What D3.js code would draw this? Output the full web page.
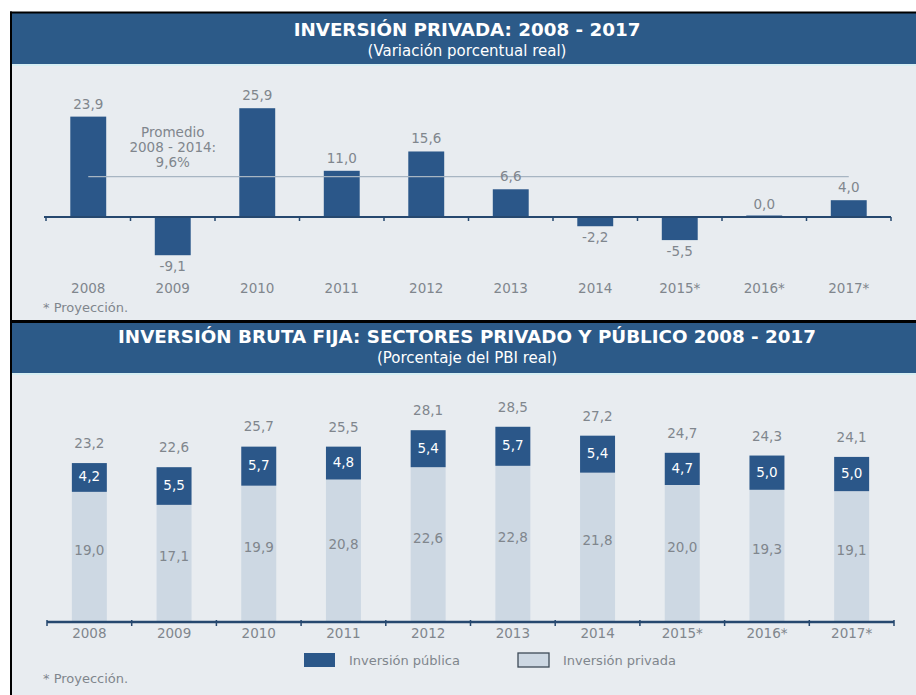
<!DOCTYPE html>
<html>
<head>
<meta charset="utf-8">
<script src="https://cdn.jsdelivr.net/npm/d3@7"></script>
<style>
  html, body { margin: 0; padding: 0; background: #ffffff; }
  svg { display: block; }
</style>
</head>
<body>
<svg id="chart" width="916" height="695"></svg>
<script>
// Años del período (los marcados con * son proyecciones)
const years = ["2008", "2009", "2010", "2011", "2012", "2013", "2014", "2015*", "2016*", "2017*"];

// Inversión privada: variación porcentual real
const privateGrowth = [23.9, -9.1, 25.9, 11.0, 15.6, 6.6, -2.2, -5.5, 0.0, 4.0];
const averageGrowth = 9.6;

// Inversión bruta fija (% del PBI real)
const publicShare  = [4.2, 5.5, 5.7, 4.8, 5.4, 5.7, 5.4, 4.7, 5.0, 5.0];
const privateShare = [19.0, 17.1, 19.9, 20.8, 22.6, 22.8, 21.8, 20.0, 19.3, 19.1];
const totalShare   = [23.2, 22.6, 25.7, 25.5, 28.1, 28.5, 27.2, 24.7, 24.3, 24.1];

const seriesNames = ["Inversión pública", "Inversión privada"];

const C = {
  header: "#2c5a88",
  headerLine: "#d6eef3",
  bg: "#e8ecf0",
  dark: "#2b5789",
  light: "#cdd8e3",
  text: "#80868d",
  axis: "#26486f",
  avg: "#a7b5c2"
};

const es = d3.formatLocale({ decimal: ",", thousands: ".", grouping: [3], currency: ["", ""], minus: "-" });
const fmt = es.format(".1f");

const svg = d3.select("#chart");
const NUM_FONT = "'DejaVu Sans', Verdana, sans-serif";

// Marco y fondos de los dos paneles
svg.append("rect").attr("x", 12).attr("y", 13).attr("width", 904).attr("height", 307).attr("fill", C.bg);
svg.append("rect").attr("x", 12).attr("y", 323).attr("width", 904).attr("height", 372).attr("fill", C.bg);

function header(y0, h, title, subtitle, tY, sY) {
  svg.append("rect").attr("x", 12).attr("y", y0).attr("width", 904).attr("height", h).attr("fill", C.header);
  svg.append("rect").attr("x", 12).attr("y", y0 + h).attr("width", 904).attr("height", 2).attr("fill", C.headerLine);
  svg.append("text").attr("x", 467).attr("y", tY).attr("text-anchor", "middle")
    .attr("fill", "#ffffff").attr("font-family", "'DejaVu Sans', sans-serif")
    .attr("font-weight", "bold").attr("font-size", 18.3).text(title);
  svg.append("text").attr("x", 467).attr("y", sY).attr("text-anchor", "middle")
    .attr("fill", "#ffffff").attr("font-family", "'DejaVu Sans', sans-serif")
    .attr("font-size", 15).text(subtitle);
}

header(13, 51, "INVERSIÓN PRIVADA: 2008 - 2017", "(Variación porcentual real)", 36, 56);
header(323, 50, "INVERSIÓN BRUTA FIJA: SECTORES PRIVADO Y PÚBLICO 2008 - 2017", "(Porcentaje del PBI real)", 343, 363);

// Bordes negros
svg.append("rect").attr("x", 10).attr("y", 11.5).attr("width", 906).attr("height", 2).attr("fill", "#000");
svg.append("rect").attr("x", 10).attr("y", 320).attr("width", 906).attr("height", 3).attr("fill", "#000");
svg.append("rect").attr("x", 10).attr("y", 11.5).attr("width", 2).attr("height", 684).attr("fill", "#000");

// ---------- Panel superior: variación de la inversión privada ----------
const x1 = d3.scaleBand().domain(years).range([46, 891]).paddingInner(0.575).paddingOuter(0.2875);
const y1 = d3.scaleLinear().domain([-10, 27]).range([259, 103.6]);
const zero1 = y1(0);

const g1 = svg.append("g");

g1.selectAll("rect.bar").data(years).join("rect")
  .attr("class", "bar")
  .attr("x", d => x1(d))
  .attr("width", x1.bandwidth())
  .attr("y", (d, i) => Math.min(y1(privateGrowth[i]), zero1) - (privateGrowth[i] === 0 ? 1.5 : 0))
  .attr("height", (d, i) => Math.max(Math.abs(y1(privateGrowth[i]) - zero1), 2))
  .attr("fill", C.dark);

// Línea de promedio 2008-2014
g1.append("line")
  .attr("x1", x1(years[0]) + x1.bandwidth() / 2)
  .attr("x2", x1(years[years.length - 1]) + x1.bandwidth() / 2)
  .attr("y1", y1(averageGrowth)).attr("y2", y1(averageGrowth))
  .attr("stroke", C.avg).attr("stroke-width", 1.2);

const promX = x1(years[1]) + x1.bandwidth() / 2;
["Promedio", "2008 - 2014:", "9,6%"].forEach((t, i) => {
  g1.append("text").attr("x", promX).attr("y", 137 + i * 15).attr("text-anchor", "middle")
    .attr("fill", C.text).attr("font-family", NUM_FONT).attr("font-size", 13.5).text(t);
});

// Eje horizontal en cero
g1.append("line").attr("x1", 44).attr("x2", 891).attr("y1", zero1).attr("y2", zero1)
  .attr("stroke", C.axis).attr("stroke-width", 2);
const bounds1 = d3.range(years.length + 1).map(i => x1.range()[0] + i * x1.step());
g1.selectAll("line.tick").data(bounds1).join("line").attr("class", "tick")
  .attr("x1", d => d).attr("x2", d => d).attr("y1", zero1).attr("y2", zero1 + 4)
  .attr("stroke", C.axis).attr("stroke-width", 1.5);

// Etiquetas de valores
g1.selectAll("text.val").data(years).join("text").attr("class", "val")
  .attr("x", d => x1(d) + x1.bandwidth() / 2)
  .attr("y", (d, i) => privateGrowth[i] < 0 ? y1(privateGrowth[i]) + 16 : y1(privateGrowth[i]) - 8)
  .attr("text-anchor", "middle").attr("fill", C.text)
  .attr("font-family", NUM_FONT).attr("font-size", 13.5)
  .text((d, i) => fmt(privateGrowth[i]));

// Años
g1.append("g").attr("transform", `translate(0,${288})`)
  .call(d3.axisBottom(x1).tickSize(0).tickPadding(0))
  .call(g => g.select(".domain").remove())
  .call(g => g.selectAll("text").attr("fill", C.text).attr("font-family", NUM_FONT)
    .attr("font-size", 13.5).attr("dy", "0.35em").attr("y", 0));

svg.append("text").attr("x", 43).attr("y", 312).attr("fill", C.text)
  .attr("font-family", NUM_FONT).attr("font-size", 13).text("* Proyección.");

// ---------- Panel inferior: inversión bruta fija ----------
const x2 = d3.scaleBand().domain(years).range([47, 894]).paddingInner(0.587).paddingOuter(0.2935);
const y2 = d3.scaleLinear().domain([0, 30]).range([622, 416.5]);

const g2 = svg.append("g");
const stackData = years.map((yr, i) => ({ year: yr, privada: privateShare[i], publica: publicShare[i] }));
const stacked = d3.stack().keys(["privada", "publica"])(stackData);
const fills = { privada: C.light, publica: C.dark };

stacked.forEach(layer => {
  g2.selectAll(`rect.${layer.key}`).data(layer).join("rect")
    .attr("class", layer.key)
    .attr("x", d => x2(d.data.year))
    .attr("width", x2.bandwidth())
    .attr("y", d => y2(d[1]))
    .attr("height", d => y2(d[0]) - y2(d[1]))
    .attr("fill", fills[layer.key]);
});

// Etiquetas de la inversión privada (dentro de la barra clara)
g2.selectAll("text.priv").data(stacked[0]).join("text").attr("class", "priv")
  .attr("x", d => x2(d.data.year) + x2.bandwidth() / 2)
  .attr("y", d => (y2(d[0]) + y2(d[1])) / 2 - 2)
  .attr("text-anchor", "middle").attr("fill", C.text)
  .attr("font-family", NUM_FONT).attr("font-size", 13.5)
  .text(d => fmt(d.data.privada));

// Etiquetas de la inversión pública (blanco sobre la barra oscura)
g2.selectAll("text.pub").data(stacked[1]).join("text").attr("class", "pub")
  .attr("x", d => x2(d.data.year) + x2.bandwidth() / 2)
  .attr("y", d => (y2(d[0]) + y2(d[1])) / 2 + 4)
  .attr("text-anchor", "middle").attr("fill", "#ffffff")
  .attr("font-family", NUM_FONT).attr("font-size", 13.5)
  .text(d => fmt(d.data.publica));

// Totales sobre cada barra
g2.selectAll("text.tot").data(years).join("text").attr("class", "tot")
  .attr("x", d => x2(d) + x2.bandwidth() / 2)
  .attr("y", (d, i) => y2(totalShare[i]) - 15)
  .attr("text-anchor", "middle").attr("fill", C.text)
  .attr("font-family", NUM_FONT).attr("font-size", 13.5)
  .text((d, i) => fmt(totalShare[i]));

// Eje
g2.append("line").attr("x1", 47).attr("x2", 894).attr("y1", 622).attr("y2", 622)
  .attr("stroke", C.axis).attr("stroke-width", 2.5);
const bounds2 = d3.range(years.length + 1).map(i => x2.range()[0] + i * x2.step());
g2.selectAll("line.tick").data(bounds2).join("line").attr("class", "tick")
  .attr("x1", d => d).attr("x2", d => d).attr("y1", 620).attr("y2", 626)
  .attr("stroke", C.axis).attr("stroke-width", 1.5);

g2.append("g").attr("transform", `translate(0,${633})`)
  .call(d3.axisBottom(x2).tickSize(0).tickPadding(0))
  .call(g => g.select(".domain").remove())
  .call(g => g.selectAll("text").attr("fill", C.text).attr("font-family", NUM_FONT)
    .attr("font-size", 13.5).attr("dy", "0.35em").attr("y", 0));

// Leyenda
const legend = [
  { name: seriesNames[0], x: 304, fill: C.dark, stroke: "none" },
  { name: seriesNames[1], x: 518, fill: C.light, stroke: "#3d4a57" }
];
legend.forEach(l => {
  svg.append("rect").attr("x", l.x).attr("y", 653).attr("width", 31).attr("height", 14)
    .attr("fill", l.fill).attr("stroke", l.stroke).attr("stroke-width", 1.3);
  svg.append("text").attr("x", l.x + 45).attr("y", 664.5).attr("fill", C.text)
    .attr("font-family", NUM_FONT).attr("font-size", 13).text(l.name);
});

svg.append("text").attr("x", 43).attr("y", 683).attr("fill", C.text)
  .attr("font-family", NUM_FONT).attr("font-size", 13).text("* Proyección.");
</script>
</body>
</html>
